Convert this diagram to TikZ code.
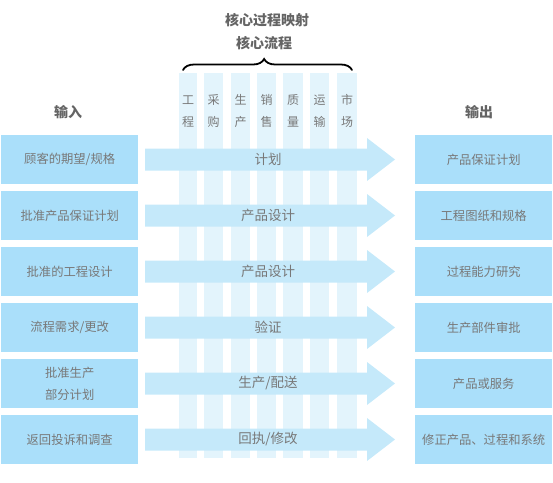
\documentclass[tikz,border=0pt]{standalone}
\usepackage{fontspec}
\setmainfont{Noto Sans CJK SC}
\usetikzlibrary{decorations.pathreplacing}
\definecolor{boxblue}{RGB}{170,223,250}
\definecolor{arrowblue}{RGB}{197,233,250}
\definecolor{colblue}{RGB}{227,244,252}
\definecolor{txtgray}{RGB}{120,120,120}
\definecolor{headgray}{RGB}{100,100,100}
\tikzset{
  inbox/.style={fill=boxblue, draw=none, minimum width=137pt, minimum height=49pt, inner sep=0pt, anchor=north west, font=\fontsize{12.3}{22}\selectfont, text=txtgray, align=center},
  colbar/.style={fill=colblue, draw=none},
  arrowlbl/.style={font=\fontsize{13.5}{16}\selectfont, text=txtgray, inner sep=0pt},
  colchar/.style={font=\fontsize{12}{14}\selectfont, text=txtgray, inner sep=0pt},
  heading/.style={font=\fontsize{14}{16}\selectfont\bfseries, text=headgray, inner sep=0pt},
}
\begin{document}
\begin{tikzpicture}[x=1pt,y=-1pt]
\useasboundingbox (0,0) rectangle (553,482);
% columns
\foreach \l/\r [count=\i] in {179/197,204/223,231/250,257/276,283/303,310/329,337/357}{
  \fill[colbar] (\l,73) rectangle (\r,458);
}
% column labels
\foreach \cx/\a/\b [count=\i] in {188/工/程,213.5/采/购,240.5/生/产,266.5/销/售,293/质/量,319.5/运/输,347/市/场}{
  \node[colchar] (ca\i) at (\cx,100) {\a};
  \node[colchar] (cb\i) at (\cx,122) {\b};
}
% headings
\node[heading] (t1) at (267,20) {核心过程映射};
\node[heading] (t2) at (264,43) {核心流程};
\coordinate (bl) at (183,70);
\coordinate (br) at (352,70);
\draw[line width=1.8pt, line cap=round, decorate, decoration={brace, amplitude=11pt, aspect=0.48}] (bl) -- (br);
\node[heading] (hin) at (68,112) {输入};
\node[heading] (hout) at (479,112) {输出};
% rows
\foreach \inp/\lbl/\outp [count=\k from 0] in {
  {顾客的期望/规格}/{计划}/{产品保证计划},
  {批准产品保证计划}/{产品设计}/{工程图纸和规格},
  {批准的工程设计}/{产品设计}/{过程能力研究},
  {流程需求/更改}/{验证}/{生产部件审批},
  {批准生产\\部分计划}/{生产/配送}/{产品或服务},
  {返回投诉和调查}/{回执/修改}/{修正产品、过程和系统}}{
  \pgfmathsetmacro{\top}{135+56*\k}
  \pgfmathsetmacro{\cy}{\top+24.5}
  \node[inbox] (in\k) at (1,\top) {\inp};
  \node[inbox] (out\k) at (415,\top) {\outp};
  \fill[arrowblue] (145,\cy-11) -- (367,\cy-11) -- (367,\cy-21.5) -- (395,\cy) -- (367,\cy+21.5) -- (367,\cy+11) -- (145,\cy+11) -- cycle;
  \node[arrowlbl] (ar\k) at (268,\cy) {\lbl};
}
\end{tikzpicture}
\end{document}
